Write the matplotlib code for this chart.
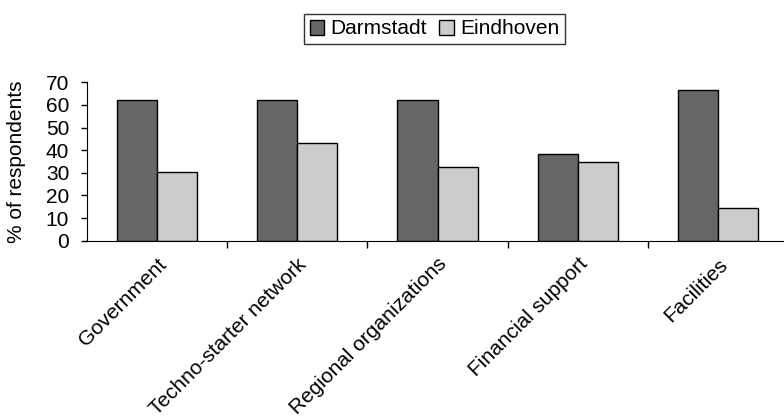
import matplotlib.pyplot as plt
import matplotlib.transforms as mtransforms
import numpy as np

plt.rcParams['font.family'] = ['Liberation Sans', 'DejaVu Sans']

categories = ['Government', 'Techno-starter network', 'Regional organizations',
              'Financial support', 'Facilities']
darmstadt = [62.2, 62.2, 62.2, 38.2, 66.4]
eindhoven = [30.4, 43.3, 32.4, 34.6, 14.6]

fs = 15
fig = plt.figure(figsize=(7.84, 4.2), dpi=100)
ax = fig.add_axes([86.5 / 784, 1 - 240.7 / 420, 702 / 784, 158.4 / 420])

x = np.arange(len(categories))
w = 1 / 3.5
ax.bar(x - w / 2, darmstadt, w, color='#666666', edgecolor='black', linewidth=1, label='Darmstadt')
ax.bar(x + w / 2, eindhoven, w, color='#cccccc', edgecolor='black', linewidth=1, label='Eindhoven')

ax.set_xlim(-0.5, len(categories) - 0.5)
ax.set_ylim(0, 70)
ax.set_yticks(range(0, 71, 10))
ax.set_xticks(np.arange(0.5, len(categories) - 0.5, 1))
ax.set_xticklabels([])
ax.set_xticks(x, minor=True)
ax.set_xticklabels(categories, minor=True, rotation=45, ha='right', rotation_mode='anchor', fontsize=fs)
offset = mtransforms.ScaledTranslation(4 / 100, 0, fig.dpi_scale_trans)
for lab in ax.get_xticklabels(minor=True):
    lab.set_transform(lab.get_transform() + offset)
ax.tick_params(axis='x', which='major', length=5, width=1, direction='out')
ax.tick_params(axis='x', which='minor', length=0, pad=10)
ax.tick_params(axis='y', length=4.5, width=1, labelsize=fs, pad=8)
for s in ['top', 'right']:
    ax.spines[s].set_visible(False)
ax.set_ylabel('% of respondents', fontsize=fs, labelpad=14)

leg = fig.legend(loc='center', bbox_to_anchor=(434.5 / 784, 1 - 29 / 420), ncol=2, fontsize=fs,
                 frameon=True, fancybox=False, edgecolor='black', handlelength=0.7, handleheight=0.7,
                 handletextpad=0.3, columnspacing=0.6, borderpad=0.25, borderaxespad=0)
leg.get_frame().set_linewidth(1)

fig.savefig('out.png', dpi=100)
